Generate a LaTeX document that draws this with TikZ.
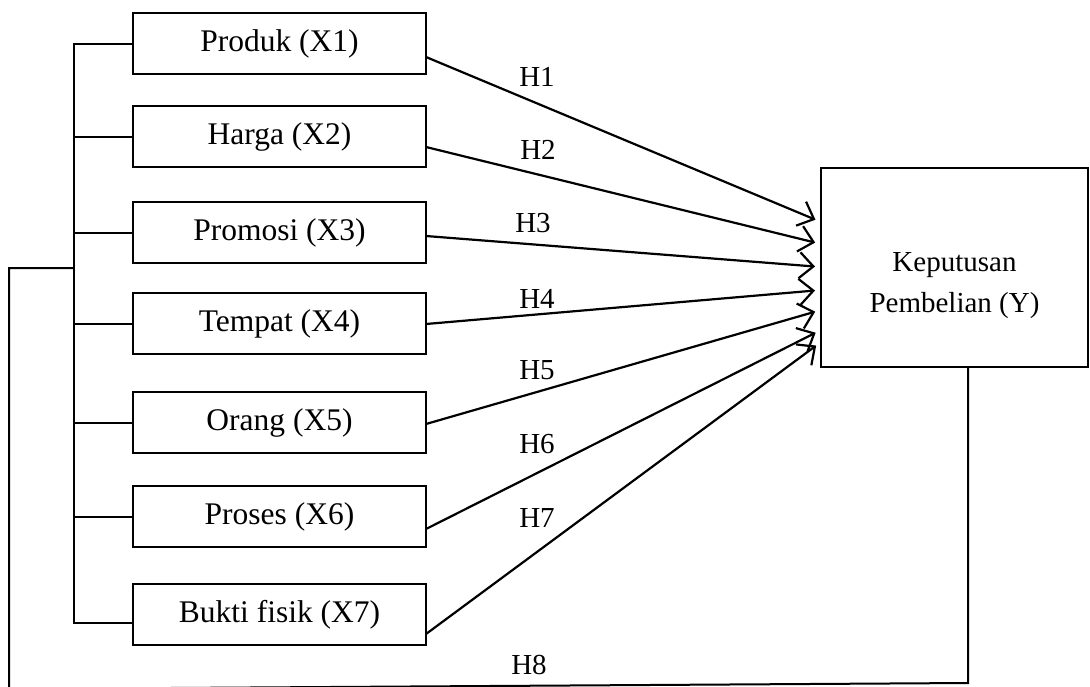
\documentclass[tikz,border=0pt]{standalone}
\usepackage{fontspec}
\setmainfont{Liberation Serif}
\usetikzlibrary{positioning}
\usetikzlibrary{arrows.meta}
\tikzstyle{block} = [draw, rectangle, line width=1.6pt, minimum height=61pt, minimum width=293pt, inner sep=0pt, outer sep=0pt, font=\fontsize{31.5}{36}\selectfont]
\tikzstyle{ybox} = [draw, rectangle, line width=1.8pt, minimum height=199pt, minimum width=267pt, outer sep=0pt]
\tikzstyle{hyp} = [font=\fontsize{29}{41}\selectfont]
\tikzstyle{link} = [line width=2pt]
\tikzstyle{arr} = [line width=2.2pt, -{Straight Barb[length=14pt,width=26pt]}, shorten >=6pt]

\begin{document}
\begin{tikzpicture}[x=1pt,y=1pt]
    \useasboundingbox (0,0) rectangle (1090,-686);
    \node [block] at (279.5,-43.5) (x1) {Produk (X1)};
    \node [block, below=32pt of x1] (x2) {Harga (X2)};
    \node [block, below=35pt of x2] (x3) {Promosi (X3)};
    \node [block, below=30pt of x3] (x4) {Tempat (X4)};
    \node [block, below=38pt of x4] (x5) {Orang (X5)};
    \node [block, below=33pt of x5] (x6) {Proses (X6)};
    \node [block, below=37pt of x6] (x7) {Bukti fisik (X7)};
    \node [ybox] at (954.5,-267.5) (Y) {};
    \node [hyp, align=center, yshift=-18pt] at (Y) (ytext) {Keputusan\\Pembelian (Y)};

    % bus on the left
    \draw [link] (x1.west) -- ++(-59,0) |- ([yshift=-8.5pt]x7.west);
    \foreach \i in {2,...,6}
        \draw [link] (x\i.west) -- ++(-59,0);

    % arrows to Y
    \foreach \i/\s/\t in {1/-13.5/45.5, 2/-10.5/23.5, 3/-3.5/0.5, 4/-0.5/-22.5, 5/-1.5/-42.5, 6/-12.5/-62.5, 7/-19.5/-74.5}
        \draw [arr] ([yshift=\s pt]x\i.east) -- ([yshift=\t pt]Y.west);

    \foreach \i/\lx/\ly in {1/537/77, 2/538/150, 3/533/223, 4/537/299, 5/537/370, 6/537/444, 7/537/518, 8/529/665}
        \node [hyp] at (\lx,-\ly) (h\i) {H\i};

    % feedback loop H8
    \coordinate (busj) at (73,-268);
    \coordinate (loopr) at (968,-683);
    \coordinate (loopl) at (9,-689);
    \draw [link] ([xshift=13.5pt]Y.south) -- (loopr) -- (loopl) |- (busj);
\end{tikzpicture}
\end{document}
